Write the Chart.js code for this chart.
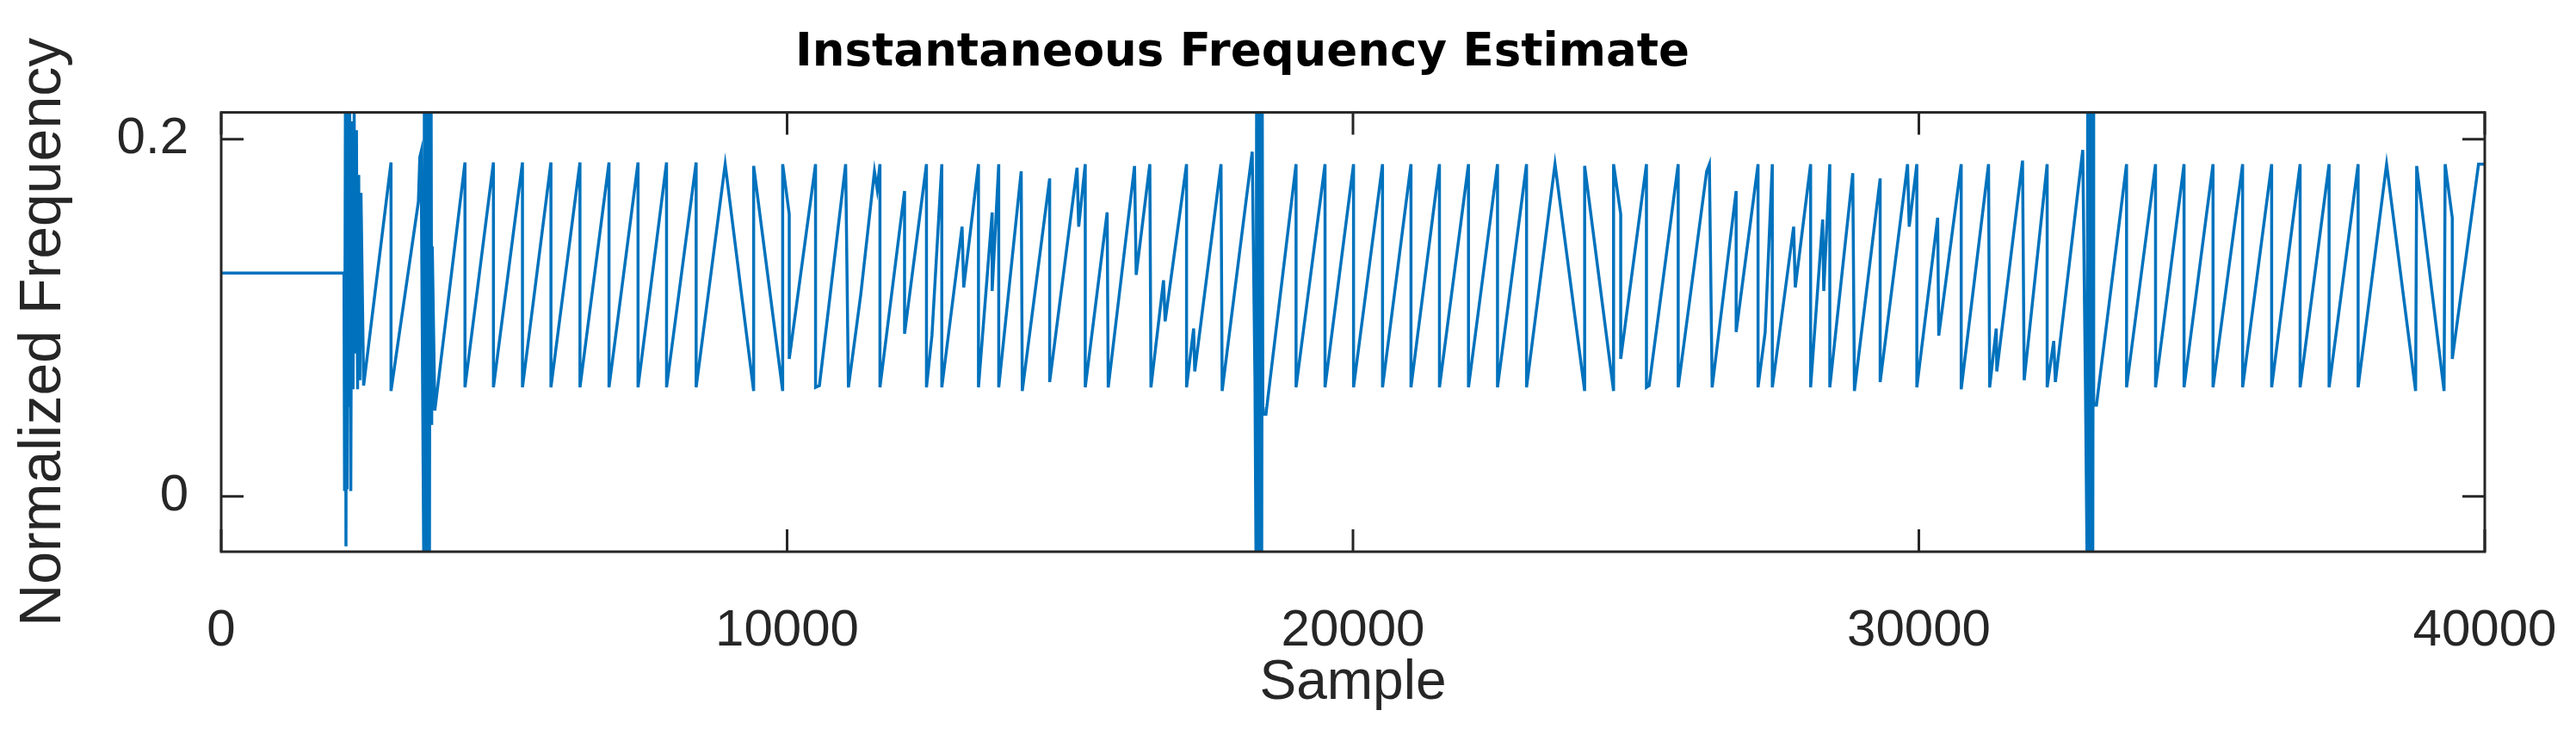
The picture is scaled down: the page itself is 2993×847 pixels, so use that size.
<!DOCTYPE html>
<html>
<head>
<meta charset="utf-8">
<script src="https://cdn.jsdelivr.net/npm/chart.js@4/dist/chart.umd.min.js"></script>
<style>
  html, body { margin: 0; padding: 0; background: #fff; }
  #wrap { width: 2993px; height: 847px; }
</style>
</head>
<body>
<div id="wrap"><canvas id="freq-chart" width="2993" height="847"></canvas></div>
<script>
// sample index / normalized frequency
const sampleIdx = [
  0, 2170,
  2180, 2195, 2205, 2215, 2225, 2240, 2255, 2270, 2290, 2310, 2330, 2350, 2370, 2390, 2410, 2430, 2450, 2470, 2517,
  3001, 3001, 3485, 3510, 3533,
  3580, 3590, 3600, 3610, 3620, 3630, 3640, 3650, 3660, 3670, 3680, 3690, 3700, 3710, 3720, 3730, 3775,
  4308, 4308, 4811, 4811, 5324, 5324, 5827, 5827, 6340, 6340, 6853, 6853, 7366, 7366, 7870, 7870, 8393, 8393,
  8906, 9409, 9409, 9922, 9922, 10038, 10038, 10503, 10503, 10571, 11035, 11084,
  11302, 11544, 11592, 11641, 11641, 12076, 12076, 12463, 12463, 12560, 12734, 12734, 13092, 13121, 13382, 13382,
  13624, 13624, 13740, 13740, 14137, 14156, 14640, 14640, 15124, 15153, 15269, 15269, 15656, 15675, 16140, 16169,
  16410, 16430, 16652, 16681, 17059, 17059, 17184, 17204, 17668, 17688, 18220, 18268,
  18287, 18297, 18307, 18317, 18327, 18337, 18347, 18357, 18367, 18377, 18387, 18397, 18407, 18413, 18462,
  18994, 18994, 19506, 19506, 20010, 20010, 20522, 20522, 21025, 21025, 21528, 21528, 22041, 22041, 22554, 22554,
  23067, 23067, 23570, 24094, 24094, 24605, 24605, 24731, 24731, 25186, 25186, 25234, 25747, 25747, 26250, 26298, 26347,
  26771, 26771, 27158, 27158, 27284, 27410, 27410, 27787, 27816, 28087, 28087, 28300, 28319, 28426, 28426,
  28832, 28861, 29316, 29316, 29800, 29829, 29964, 29964, 30332, 30351, 30748, 30748, 31231, 31251, 31367, 31377,
  31832, 31861, 32267, 32267, 32383, 32412, 32896, 32944,
  32973, 32983, 32993, 33003, 33013, 33023, 33033, 33043, 33053, 33063, 33073, 33083, 33089, 33138,
  33670, 33670, 34182, 34182, 34686, 34686, 35198, 35198, 35721, 35721, 36234, 36234, 36737, 36737, 37249, 37249,
  37762, 37762, 38265, 38778, 38797, 39281, 39300, 39426, 39426, 39890, 40000
];
const freqVals = [
  0.125, 0.125,
  0.003, 0.22, -0.028, 0.22, 0.004, 0.22, 0.05, 0.22, 0.003, 0.21, 0.06, 0.215, 0.08, 0.205, 0.06, 0.18, 0.065, 0.17, 0.062,
  0.187, 0.059, 0.165, 0.19, 0.193,
  -0.04, 0.22, -0.04, 0.22, 0.05, 0.22, -0.04, 0.22, 0.06, 0.22, -0.04, 0.22, 0.05, 0.22, 0.04, 0.14, 0.048,
  0.187, 0.061, 0.187, 0.061, 0.187, 0.061, 0.187, 0.061, 0.187, 0.061, 0.187, 0.061, 0.187, 0.061, 0.187, 0.061, 0.187, 0.061,
  0.186, 0.059, 0.185, 0.059, 0.186, 0.158, 0.077, 0.186, 0.061, 0.062, 0.186, 0.061,
  0.113, 0.182, 0.172, 0.186, 0.061, 0.171, 0.091, 0.186, 0.061, 0.09, 0.186, 0.061, 0.151, 0.117, 0.186, 0.061,
  0.159, 0.115, 0.186, 0.061, 0.182, 0.059, 0.178, 0.064, 0.184, 0.151, 0.186, 0.061, 0.159, 0.061, 0.185, 0.124,
  0.186, 0.061, 0.121, 0.098, 0.186, 0.061, 0.094, 0.07, 0.186, 0.059, 0.193, 0.065,
  -0.04, 0.22, -0.04, 0.22, 0.05, 0.22, -0.04, 0.22, 0.06, 0.22, -0.04, 0.22, 0.05, 0.046, 0.046,
  0.186, 0.061, 0.186, 0.061, 0.186, 0.061, 0.186, 0.061, 0.186, 0.061, 0.186, 0.061, 0.186, 0.061, 0.186, 0.061,
  0.186, 0.061, 0.186, 0.059, 0.185, 0.059, 0.186, 0.158, 0.077, 0.186, 0.061, 0.062, 0.186, 0.061, 0.182, 0.186, 0.061,
  0.171, 0.092, 0.186, 0.061, 0.092, 0.186, 0.061, 0.151, 0.117, 0.186, 0.061, 0.155, 0.115, 0.186, 0.061,
  0.181, 0.059, 0.178, 0.064, 0.186, 0.151, 0.186, 0.061, 0.156, 0.09, 0.186, 0.06, 0.186, 0.061, 0.094, 0.07,
  0.188, 0.065, 0.186, 0.061, 0.087, 0.064, 0.194, 0.061,
  -0.04, 0.22, -0.04, 0.22, 0.05, 0.22, -0.04, 0.22, 0.06, 0.22, -0.04, 0.22, 0.051, 0.051,
  0.186, 0.061, 0.186, 0.061, 0.186, 0.061, 0.186, 0.061, 0.186, 0.061, 0.186, 0.061, 0.186, 0.061, 0.186, 0.061,
  0.186, 0.061, 0.186, 0.059, 0.185, 0.059, 0.186, 0.156, 0.077, 0.186, 0.186
];
const xTickVals = [0, 10000, 20000, 30000, 40000];
const yTickVals = [0, 0.2];

const points = sampleIdx.map((s, i) => ({ x: s, y: freqVals[i] }));

// box around the plot with inward ticks on all four sides
const framePlugin = {
    id: 'frame',
    afterDraw(chart) {
        const ctx = chart.ctx;
        const a = chart.chartArea;
        const xs = chart.scales.x, ys = chart.scales.y;
        const len = 26;
        ctx.save();
        ctx.strokeStyle = '#262626';
        ctx.lineWidth = 3;
        ctx.strokeRect(a.left, a.top, a.right - a.left, a.bottom - a.top);
        ctx.beginPath();
        xTickVals.forEach(v => {
            const px = xs.getPixelForValue(v);
            ctx.moveTo(px, a.bottom); ctx.lineTo(px, a.bottom - len);
            ctx.moveTo(px, a.top); ctx.lineTo(px, a.top + len);
        });
        yTickVals.forEach(v => {
            const py = ys.getPixelForValue(v);
            ctx.moveTo(a.left, py); ctx.lineTo(a.left + len, py);
            ctx.moveTo(a.right, py); ctx.lineTo(a.right - len, py);
        });
        ctx.stroke();
        ctx.restore();
    }
};

const fam = 'Liberation Sans, Arial, sans-serif';
const tickFont = { family: fam, size: 60 };

const config = {
    type: 'line',
    data: {
        datasets: [{
            data: points,
            borderColor: '#0072BD',
            borderWidth: 3.5,
            pointRadius: 0,
            tension: 0,
            fill: false
        }]
    },
    plugins: [framePlugin],
    options: {
        responsive: false,
        animation: false,
        devicePixelRatio: 1,
        layout: { padding: { left: 0, right: 106, top: 0, bottom: 0 } },
        scales: {
            x: {
                type: 'linear',
                min: 0,
                max: 40000,
                grid: { display: false },
                border: { display: false },
                afterBuildTicks: s => { s.ticks = xTickVals.map(v => ({ value: v })); },
                afterFit: s => { s.height = 206; s.paddingRight = 0; s.paddingLeft = 0; },
                ticks: { color: '#262626', font: tickFont, padding: 48, maxRotation: 0, callback: v => String(v) },
                title: { display: true, text: 'Sample', color: '#262626', font: { family: fam, size: 64 }, padding: { top: 0, bottom: 14 } }
            },
            y: {
                type: 'linear',
                min: -0.031,
                max: 0.215,
                grid: { display: false },
                border: { display: false },
                afterBuildTicks: s => { s.ticks = yTickVals.map(v => ({ value: v })); },
                afterFit: s => { s.width = 257; },
                ticks: { color: '#262626', font: tickFont, padding: 30, callback: v => String(v) },
                title: { display: true, text: 'Normalized Frequency', color: '#262626', font: { family: fam, size: 68 }, padding: { top: 10, bottom: 0 } }
            }
        },
        plugins: {
            legend: { display: false },
            tooltip: { enabled: false },
            title: {
                display: true,
                text: 'Instantaneous Frequency Estimate',
                color: '#000',
                font: { family: 'DejaVu Sans', size: 53, weight: 'bold' },
                padding: { top: 30, bottom: 37 }
            }
        }
    }
};

new Chart(document.getElementById('freq-chart').getContext('2d'), config);
</script>
</body>
</html>
